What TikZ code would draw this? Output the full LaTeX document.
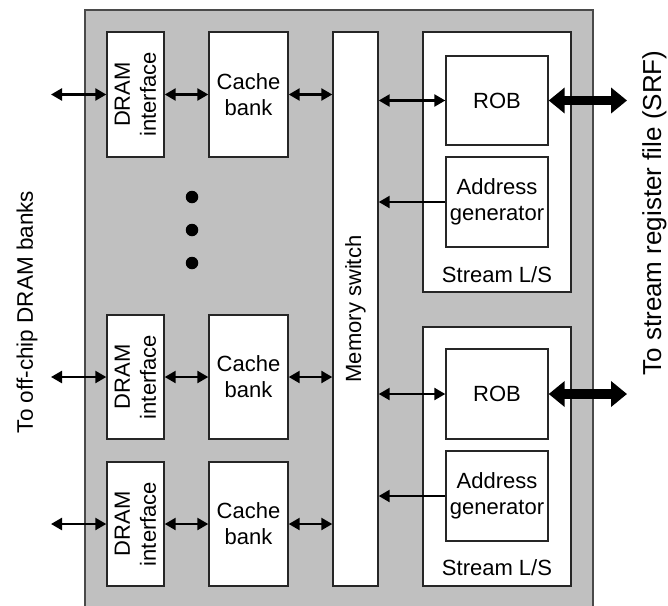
\documentclass[tikz,border=0pt]{standalone}
\usepackage{fontspec}
\setmainfont{Liberation Sans}
\usetikzlibrary{arrows.meta,calc}
\definecolor{panel}{HTML}{C0C0C0}
\definecolor{edge}{HTML}{262626}
\definecolor{outeredge}{HTML}{4A4A4A}
\begin{document}
\begin{tikzpicture}[x=1pt,y=-1pt,
  box/.style={draw=edge, line width=1.4pt, fill=white, inner sep=0pt, align=center, font=\fontsize{22}{26}\selectfont},
  rbox/.style={box, rotate=90},
  txt/.style={inner sep=0pt, font=\fontsize{22}{26}\selectfont},
  biarrow/.style={line width=2.4pt, {Triangle[length=11pt,width=12pt]}-{Triangle[length=11pt,width=12pt]}},
  onearrow/.style={line width=2.4pt, -{Triangle[length=11pt,width=12pt]}},
  fatarrow/.style={line width=9.5pt, {Triangle[length=16pt,width=25pt]}-{Triangle[length=16pt,width=25pt]}},
  dotmark/.style={circle, fill=black, minimum size=12.5pt, inner sep=0pt}
]
\useasboundingbox (0,0) rectangle (668,605);
% chip panel
\node[draw=outeredge, line width=2pt, fill=panel, minimum width=508pt, minimum height=602pt, inner sep=0pt] (chip) at (339,311) {};

% DRAM interfaces
\node[rbox, minimum width=125pt, minimum height=57pt] (dram1) at (135.5,94.5) {DRAM\\interface};
\node[rbox, minimum width=124pt, minimum height=57pt] (dram2) at (135.5,377) {DRAM\\interface};
\node[rbox, minimum width=124pt, minimum height=57pt] (dram3) at (135.5,524) {DRAM\\interface};

% cache banks
\node[box, minimum width=79pt, minimum height=125pt] (cache1) at (248.5,94.5) {Cache\\bank};
\node[box, minimum width=79pt, minimum height=124pt] (cache2) at (248.5,377) {Cache\\bank};
\node[box, minimum width=79pt, minimum height=124pt] (cache3) at (248.5,524) {Cache\\bank};

% dots
\node[dotmark] (d1) at (192,197) {};
\node[dotmark] (d2) at (192,230) {};
\node[dotmark] (d3) at (192,263) {};

% memory switch
\node[rbox, minimum width=554pt, minimum height=45pt] (sw) at (355.5,309) {Memory switch};

% stream L/S units
\node[box, minimum width=148pt, minimum height=260pt] (sls1) at (497,162) {};
\node[box, minimum width=148pt, minimum height=259pt] (sls2) at (497,456.5) {};
\node[box, minimum width=102pt, minimum height=89pt] (rob1) at (497,100.5) {ROB};
\node[box, minimum width=102pt, minimum height=90pt] (addr1) at (497,202) {Address\\generator};
\node[box, minimum width=102pt, minimum height=90pt] (rob2) at (497,394) {ROB};
\node[box, minimum width=102pt, minimum height=90pt] (addr2) at (497,496) {Address\\generator};
\node[txt, anchor=base] (slsl1) at (497,282) {Stream L/S};
\node[txt, anchor=base] (slsl2) at (497,575) {Stream L/S};

% outside labels
\node[txt, rotate=90, font=\fontsize{22.5}{26}\selectfont] (offchip) at (27,312) {To off-chip DRAM banks};
\node[txt, rotate=90, font=\fontsize{26}{30}\selectfont] (srf) at (654.5,213) {To stream register file (SRF)};

% free ends
\coordinate (ext1) at (51,94.5);
\coordinate (ext2) at (51,377);
\coordinate (ext3) at (51,524);
\coordinate (srf1) at (627,100.5);
\coordinate (srf2) at (627,394);

% connectors
\draw[biarrow] (ext1) -- (dram1.north);
\draw[biarrow] (ext2) -- (dram2.north);
\draw[biarrow] (ext3) -- (dram3.north);
\draw[biarrow] (dram1.south) -- (cache1.west);
\draw[biarrow] (dram2.south) -- (cache2.west);
\draw[biarrow] (dram3.south) -- (cache3.west);
\draw[biarrow] (cache1.east) -- (cache1.east -| sw.north);
\draw[biarrow] (cache2.east) -- (cache2.east -| sw.north);
\draw[biarrow] (cache3.east) -- (cache3.east -| sw.north);
\draw[biarrow] (rob1.west -| sw.south) -- (rob1.west);
\draw[biarrow] (rob2.west -| sw.south) -- (rob2.west);
\draw[onearrow] (addr1.west) -- (addr1.west -| sw.south);
\draw[onearrow] (addr2.west) -- (addr2.west -| sw.south);
\draw[fatarrow] (rob1.east) -- (srf1);
\draw[fatarrow] (rob2.east) -- (srf2);
\end{tikzpicture}
\end{document}
